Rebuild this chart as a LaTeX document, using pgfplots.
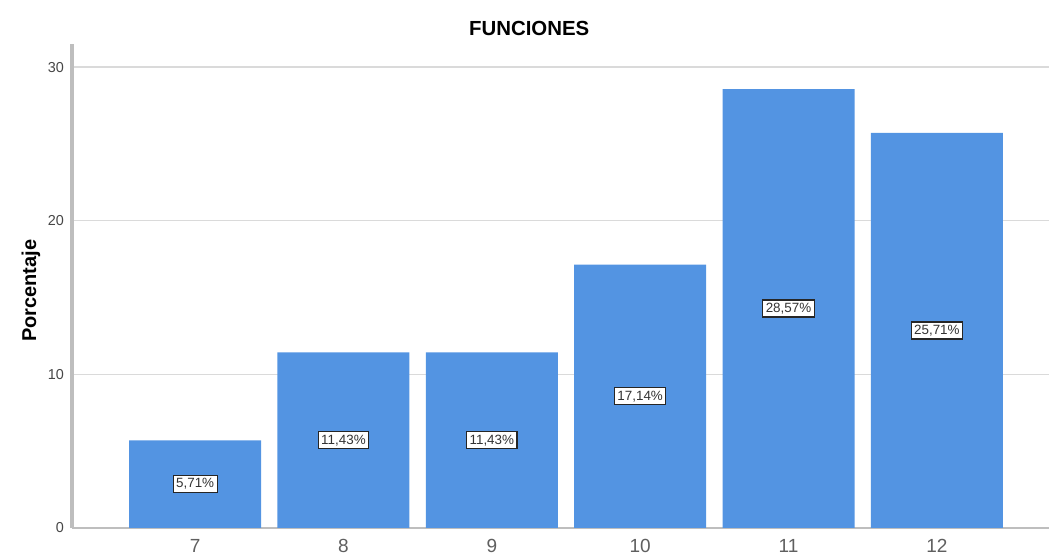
\documentclass[border=0pt]{standalone}
\usepackage{pgfplots}
\pgfplotsset{compat=1.18}
\usepackage{pgfplotstable}
\usepackage{fontspec}
\setmainfont{Liberation Sans}

\definecolor{barblue}{RGB}{83,148,226}
\definecolor{gridgray}{RGB}{218,218,218}
\definecolor{axisgray}{RGB}{190,190,190}
\definecolor{ticktext}{RGB}{70,70,70}
\definecolor{xticktext}{RGB}{95,95,95}

% Porcentaje por nota
\pgfplotstableread{
x nota pct
0 7  5.71
1 8  11.43
2 9  11.43
3 10 17.14
4 11 28.57
5 12 25.71
}\datos

\begin{document}
\begin{tikzpicture}
\path[use as bounding box] (-36pt,-14pt) rectangle (488.5pt,264pt);
\begin{axis}[
  at={(0pt,0pt)}, anchor=south west,
  scale only axis,
  width=488.5pt, height=242pt,
  xmin=-0.83, xmax=5.756,
  ymin=0, ymax=31.5,
  clip=false,
  axis lines=left,
  axis line style={axisgray, line width=1.6pt, -},
  x axis line style={line width=1.1pt},
  xtick=data,
  xticklabels={7,8,9,10,11,12},
  ytick={0,10,20,30},
  major tick length=0pt,
  ymajorgrids,
  grid style={gridgray, line width=0.8pt},
  tick label style={/pgf/number format/assume math mode=true},
  yticklabel style={font=\fontsize{7.2}{8}\selectfont, text=ticktext, xshift=-0.5pt},
  xticklabel style={font=\fontsize{9.5}{10}\selectfont, text=xticktext, yshift=-2pt},
  ylabel={\textbf{Porcentaje}},
  ylabel style={font=\fontsize{10}{11}\selectfont, at={(axis description cs:-0.042,0.49)}, anchor=center},
]
\addplot[ybar, bar width=0.89, fill=barblue, draw=none] table[x=x, y=pct] {\datos};
\addplot[draw=none, mark=none,
  nodes near coords={\pgfmathprintnumber[fixed, fixed zerofill, precision=2, use comma, assume math mode=true]{\pgfplotspointmeta}\%},
  nodes near coords align={center},
  point meta=explicit,
  every node near coord/.append style={font=\fontsize{6.7}{7}\selectfont, fill=white, draw=black!85, line width=0.6pt, inner sep=1.5pt, anchor=center, text=black!80},
] table[x=x, y expr=\thisrow{pct}/2, meta=pct] {\datos};
\node[font=\bfseries\fontsize{10.2}{11}\selectfont, anchor=center] at (axis description cs:0.468,1.033) {FUNCIONES};
\end{axis}
\end{tikzpicture}
\end{document}
